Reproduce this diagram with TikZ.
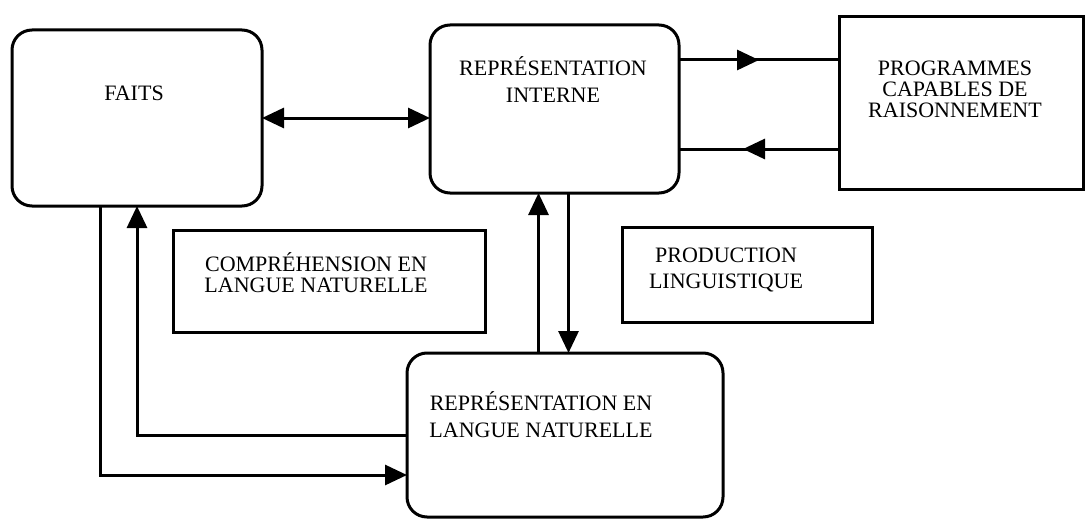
\documentclass[tikz,border=0pt]{standalone}
\usepackage{fontspec}
\setmainfont{Liberation Serif}
\usepackage{tikz}
\usetikzlibrary {arrows.meta}
\usetikzlibrary{decorations.markings}

\tikzset{
    roundbox/.style={draw, line width=1.5pt, rounded corners=10pt, inner sep=0pt, outer sep=0pt},
    sharpbox/.style={draw, line width=1.5pt, inner sep=0pt, outer sep=0pt},
    boxtext/.style={font=\fontsize{11}{10.5}\selectfont, align=center, inner sep=0pt},
    link/.style={line width=1.5pt, >={Triangle[length=11pt,width=10pt]}},
    midarrow/.style={line width=1.5pt, postaction={decorate, decoration={markings,
        mark=at position #1 with {\arrow{Triangle[length=11pt,width=10pt]}}}}}
}

\begin{document}
\begin{tikzpicture}[x=0.5pt, y=-0.5pt]
        \useasboundingbox (0,0) rectangle (1085,519);

        % Faits
        \node[roundbox, minimum width=125pt, minimum height=88pt] (faits) at (137,118) {};
        \node[boxtext] (faits-txt) at (134,93) {FAITS};

        % Representation interne
        \node[roundbox, minimum width=124.5pt, minimum height=84pt] (ri) at (554.5,109) {};
        \node[boxtext] (ri-txt) at (553,80) {REPRÉSENTATION\\[3pt] INTERNE};

        % Programmes
        \node[sharpbox, minimum width=122pt, minimum height=86pt] (prog) at (961,103) {};
        \node[boxtext] (prog-txt) at (955,89) {PROGRAMMES\\ CAPABLES DE\\ RAISONNEMENT};

        % Comprehension
        \node[sharpbox, minimum width=156pt, minimum height=51pt] (comp) at (329,281) {};
        \node[boxtext] (comp-txt) at (316,273) {COMPRÉHENSION EN\\ LANGUE NATURELLE};

        % Production
        \node[sharpbox, minimum width=125pt, minimum height=47.5pt] (prod) at (747,274.5) {};
        \node[boxtext] (prod-txt) at (726,270) {PRODUCTION\\[2.5pt] LINGUISTIQUE};

        % Representation en langue naturelle
        \node[roundbox, minimum width=158pt, minimum height=82pt] (rln) at (565,435) {};
        \node[boxtext] (rln-txt) at (541,415) {REPRÉSENTATION EN\\[3pt] LANGUE NATURELLE};

        % Links
        \draw[link, <->] (faits.east) -- (faits.east -| ri.west);
        \draw[midarrow=0.5] ([yshift=24.5pt]ri.east) -- ([yshift=24.5pt]ri.east -| prog.west);
        \draw[midarrow=0.6] ([yshift=-20pt]ri.east -| prog.west) -- ([yshift=-20pt]ri.east);
        \draw[link, ->] ([xshift=-8pt]ri.south |- rln.north) -- ([xshift=-8pt]ri.south);
        \draw[link, ->] ([xshift=7pt]ri.south) -- ([xshift=7pt]ri.south |- rln.north);
        \draw[link, ->] ([xshift=-18.5pt]faits.south) |- ([yshift=-20pt]rln.west);
        \draw[link, ->] (rln.west) -| (faits.south);
    \end{tikzpicture}
\end{document}
